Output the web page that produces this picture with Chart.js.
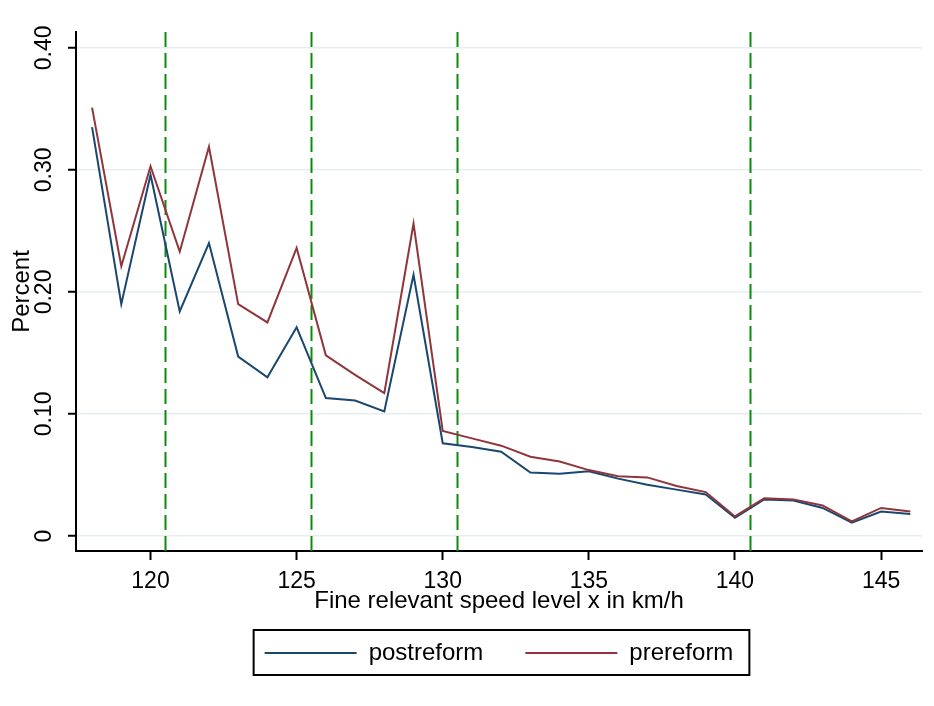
<!doctype html>
<html lang="en">
<head>
    <meta charset="utf-8" />
    <title>Fine relevant speed level</title>
    <script src="https://cdn.jsdelivr.net/npm/chart.js@4.4.1/dist/chart.umd.min.js"></script>
    <style>
        html, body { margin: 0; padding: 0; background: #fff; }
        #myChart { display: block; }
    </style>
</head>
<body>
    <canvas id="myChart" width="934" height="706"></canvas>

    <script>
        // speed levels (km/h) and share per level
        const speeds = [118, 119, 120, 121, 122, 123, 124, 125, 126, 127, 128, 129, 130, 131, 132,
                        133, 134, 135, 136, 137, 138, 139, 140, 141, 142, 143, 144, 145, 146];
        const postreform = [0.335, 0.190, 0.296, 0.184, 0.240, 0.147, 0.130, 0.171, 0.113, 0.111,
                            0.102, 0.214, 0.076, 0.073, 0.069, 0.052, 0.051, 0.053, 0.047, 0.042,
                            0.038, 0.034, 0.015, 0.030, 0.029, 0.023, 0.011, 0.020, 0.018];
        const prereform = [0.351, 0.221, 0.303, 0.233, 0.319, 0.190, 0.175, 0.236, 0.148, 0.132,
                           0.117, 0.256, 0.086, 0.080, 0.074, 0.065, 0.061, 0.054, 0.049, 0.048,
                           0.041, 0.036, 0.016, 0.031, 0.030, 0.025, 0.012, 0.023, 0.020];
        const xTicks = [120, 125, 130, 135, 140, 145];
        const yTicks = [0, 0.1, 0.2, 0.3, 0.4];
        const cutoffs = [120.5, 125.5, 130.5, 140.5];

        Chart.defaults.font.family = "'Liberation Sans', Arial, sans-serif";
        Chart.defaults.color = '#000';

        // green dashed vertical lines at the fine thresholds
        const cutoffLines = {
            id: 'cutoffLines',
            beforeDatasetsDraw(chart) {
                const { ctx, chartArea, scales } = chart;
                ctx.save();
                ctx.strokeStyle = '#0c8c0c';
                ctx.lineWidth = 2;
                ctx.setLineDash([15, 6]);
                cutoffs.forEach(c => {
                    const x = Math.round(scales.x.getPixelForValue(c)) + 0.5;
                    ctx.beginPath();
                    ctx.moveTo(x, chartArea.top);
                    ctx.lineTo(x, chartArea.bottom);
                    ctx.stroke();
                });
                ctx.restore();
            }
        };

        // frame around the legend
        const legendBox = {
            id: 'legendBox',
            afterDraw(chart) {
                const boxes = chart.legend.legendHitBoxes;
                if (!boxes || !boxes.length) return;
                const first = boxes[0];
                const last = boxes[boxes.length - 1];
                const mid = first.top + first.height / 2;
                const left = first.left - 11;
                const right = last.left + last.width + 16;
                const ctx = chart.ctx;
                ctx.save();
                ctx.strokeStyle = '#000';
                ctx.lineWidth = 2;
                ctx.strokeRect(left, mid - 23, right - left, 45);
                ctx.restore();
            }
        };

        const ctx = document.getElementById('myChart').getContext('2d');
        const myChart = new Chart(ctx, {
            type: 'line',
            data: {
                datasets: [{
                    label: 'postreform',
                    data: speeds.map((s, i) => ({ x: s, y: postreform[i] })),
                    borderColor: '#1a476f',
                    backgroundColor: '#1a476f',
                    borderWidth: 2,
                    pointRadius: 0,
                    tension: 0,
                    order: 1
                }, {
                    label: 'prereform',
                    data: speeds.map((s, i) => ({ x: s, y: prereform[i] })),
                    borderColor: '#90353b',
                    backgroundColor: '#90353b',
                    borderWidth: 2,
                    pointRadius: 0,
                    tension: 0,
                    order: 0
                }]
            },
            options: {
                responsive: false,
                animation: false,
                events: [],
                layout: { padding: { top: 32, right: 12, bottom: 31, left: 0 } },
                scales: {
                    x: {
                        type: 'linear',
                        min: 117.45,
                        max: 146.4,
                        afterBuildTicks: s => { s.ticks = xTicks.map(v => ({ value: v })); },
                        afterFit: s => { s.height = 48; },
                        ticks: { font: { size: 23 }, padding: 8, maxRotation: 0, color: '#000' },
                        grid: { drawOnChartArea: false, tickColor: '#000', tickWidth: 2, tickLength: 9 },
                        border: { display: true, color: '#000', width: 2 },
                        title: {
                            display: true,
                            text: 'Fine relevant speed level x in km/h',
                            font: { size: 24 },
                            color: '#000',
                            padding: { top: 0, bottom: -17 }
                        }
                    },
                    y: {
                        type: 'linear',
                        min: -0.0123,
                        max: 0.413,
                        afterBuildTicks: s => { s.ticks = yTicks.map(v => ({ value: v })); },
                        afterFit: s => { s.width = 76; },
                        ticks: {
                            font: { size: 23 },
                            minRotation: 90,
                            maxRotation: 90,
                            crossAlign: 'center',
                            padding: 1,
                            color: '#000',
                            callback: v => v === 0 ? '0' : v.toFixed(2)
                        },
                        grid: { color: '#e6eef1', lineWidth: 1.5, tickColor: '#000', tickWidth: 2, tickLength: 8 },
                        border: { display: true, color: '#000', width: 2 },
                        title: {
                            display: true,
                            text: 'Percent',
                            font: { size: 24 },
                            color: '#000',
                            padding: { top: 8, bottom: 0 }
                        }
                    }
                },
                plugins: {
                    legend: {
                        position: 'bottom',
                        fullSize: false,
                        labels: {
                            usePointStyle: true,
                            pointStyle: 'line',
                            pointStyleWidth: 92,
                            padding: 42,
                            color: '#000',
                            font: { size: 24 },
                            sort: (a, b) => a.datasetIndex - b.datasetIndex
                        }
                    },
                    tooltip: { enabled: false }
                }
            },
            plugins: [cutoffLines, legendBox]
        });
    </script>
</body>
</html>
